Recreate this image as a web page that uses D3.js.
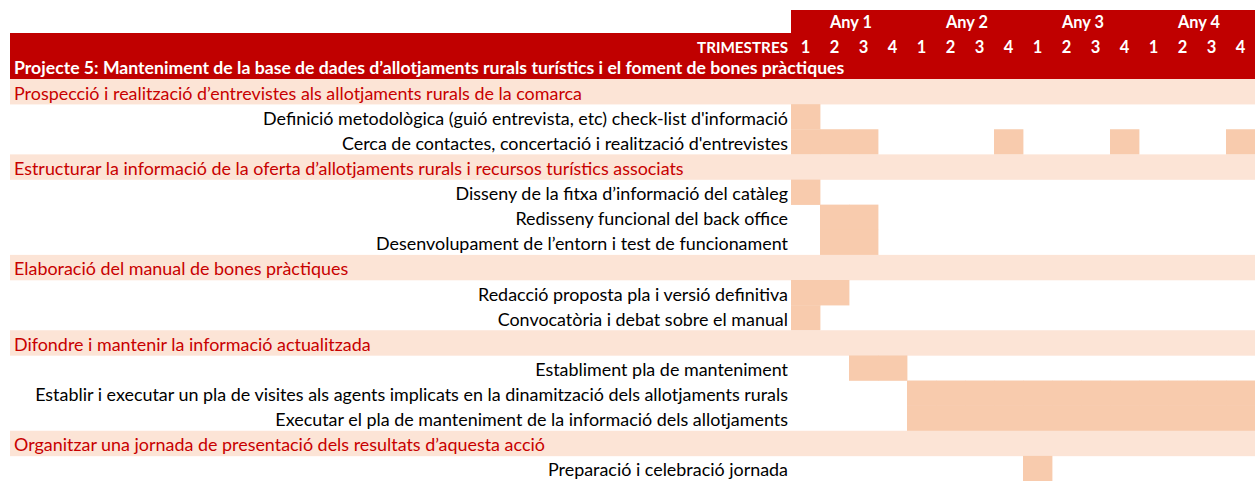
<!DOCTYPE html>
<html><head><meta charset="utf-8">
<script src="https://cdn.jsdelivr.net/npm/d3@7"></script>
<style>body{margin:0;background:#fff}svg{display:block}</style>
</head><body>
<script>
const years = ["Any 1","Any 2","Any 3","Any 4"];
const quarters = [1,2,3,4];
const headerLabel = "TRIMESTRES";
const projectTitle = "Projecte 5: Manteniment de la base de dades d’allotjaments rurals turístics i el foment de bones pràctiques";
const sections = [
  "Prospecció i realització d’entrevistes als allotjaments rurals de la comarca",
  "Estructurar la informació de la oferta d’allotjaments rurals i recursos turístics associats",
  "Elaboració del manual de bones pràctiques",
  "Difondre i mantenir la informació actualitzada",
  "Organitzar una jornada de presentació dels resultats d’aquesta acció"
];
const tasks = [
  "Definició metodològica (guió entrevista, etc) check-list d'informació",
  "Cerca de contactes, concertació i realització d'entrevistes",
  "Disseny de la fitxa d’informació del catàleg",
  "Redisseny funcional del back office",
  "Desenvolupament de l’entorn i test de funcionament",
  "Redacció proposta pla i versió definitiva",
  "Convocatòria i debat sobre el manual",
  "Establiment pla de manteniment",
  "Establir i executar un pla de visites als agents implicats en la dinamització dels allotjaments rurals",
  "Executar el pla de manteniment de la informació dels allotjaments",
  "Preparació i celebració jornada"
];
const taskSection = [0,0,1,1,1,2,2,3,3,3,4];
// active quarters (1..16) for each task
const taskActive = [
  [1],
  [1,2,3,8,12,16],
  [1],
  [2,3],
  [2,3],
  [1,2],
  [1],
  [3,4],
  [5,6,7,8,9,10,11,12,13,14,15,16],
  [5,6,7,8,9,10,11,12,13,14,15,16],
  [9]
];

const W = 1255, H = 481;
const DARK = "#C00000", LIGHT = "#FCE4D6", BAR = "#F8CBAD", SECT = "#C80000";
const FONT = "Lato, 'Open Sans', sans-serif";

const rows = [];
sections.forEach((s, si) => {
  rows.push({type: "section", label: s});
  tasks.forEach((t, ti) => { if (taskSection[ti] === si) rows.push({type: "task", label: t, active: taskActive[ti]}); });
});

const svg = d3.select("body").append("svg").attr("width", W).attr("height", H);

const allQ = d3.range(1, years.length * quarters.length + 1);
const x = d3.scaleBand().domain(allQ).range([791, 1255]).padding(0);
const xYear = d3.scaleBand().domain(years).range([791, 1255]).padding(0);
const y = d3.scaleBand().domain(d3.range(rows.length)).range([79, 481]).padding(0);
const headerY = d3.scaleBand().domain(["year","quarter","title"]).range([10, 79]).padding(0);

function fit(sel, target) {
  const fs = +sel.attr("font-size");
  const w = sel.node().getComputedTextLength();
  sel.attr("font-size", fs * target / w);
  return fs * target / w;
}

svg.append("rect").attr("x", 791).attr("y", headerY("year")).attr("width", 1255 - 791).attr("height", headerY.bandwidth() + 0.5).attr("fill", DARK);
svg.append("rect").attr("x", 10).attr("y", headerY("quarter")).attr("width", 1255 - 10).attr("height", headerY.bandwidth() * 2).attr("fill", DARK);

const yl = svg.selectAll("text.year").data(years).join("text").attr("class", "year")
  .attr("x", d => xYear(d) + xYear.bandwidth() / 2 + 2)
  .attr("y", headerY("year") + 18)
  .attr("text-anchor", "middle").attr("fill", "#fff").attr("font-weight", "bold")
  .attr("font-family", FONT).attr("font-size", 15).text(d => d);
{
  const w = yl.node().getComputedTextLength();
  yl.attr("font-size", 15 * 42 / w);
}

svg.selectAll("text.q").data(allQ).join("text").attr("class", "q")
  .attr("x", d => x(d) + x.bandwidth() / 2)
  .attr("y", headerY("quarter") + 19.5)
  .attr("text-anchor", "middle").attr("fill", "#fff").attr("font-weight", "bold")
  .attr("font-family", FONT).attr("font-size", 16.5)
  .text(d => quarters[(d - 1) % quarters.length]);

const tl = svg.append("text").attr("x", 788).attr("y", headerY("quarter") + 19.5)
  .attr("text-anchor", "end").attr("fill", "#fff").attr("font-weight", "bold")
  .attr("font-family", FONT).attr("font-size", 15).text(headerLabel);
fit(tl, 91);

const title = svg.append("text").attr("x", 14).attr("y", headerY("title") + 17.5)
  .attr("fill", "#fff").attr("font-weight", "bold")
  .attr("font-family", FONT).attr("font-size", 15).text(projectTitle);
fit(title, 831);

const g = svg.selectAll("g.row").data(rows).join("g").attr("class", "row")
  .attr("transform", (d, i) => `translate(0,${y(i)})`);
g.filter(d => d.type === "section").append("rect")
  .attr("x", 10).attr("y", 0).attr("width", 1255 - 10).attr("height", y.bandwidth() + 0.3)
  .attr("fill", LIGHT);

g.filter(d => d.type === "task").each(function(d) {
  d3.select(this).selectAll("rect.bar").data(d.active).join("rect").attr("class", "bar")
    .attr("x", q => x(q)).attr("y", 0)
    .attr("width", x.bandwidth() + 0.4).attr("height", y.bandwidth() + 0.3)
    .attr("fill", BAR);
});

const secText = g.filter(d => d.type === "section").append("text")
  .attr("x", 14).attr("y", 20.5).attr("fill", SECT)
  .attr("font-family", FONT).attr("font-size", 15).text(d => d.label);
const taskText = g.filter(d => d.type === "task").append("text")
  .attr("x", 788).attr("y", 20.5).attr("text-anchor", "end").attr("fill", "#000")
  .attr("font-family", FONT).attr("font-size", 15).text(d => d.label);

{
  let maxW = 0;
  taskText.each(function() { maxW = Math.max(maxW, this.getComputedTextLength()); });
  const fs = 15 * 753 / maxW;
  taskText.attr("font-size", fs);
  secText.attr("font-size", fs);
}
</script>
</body></html>
